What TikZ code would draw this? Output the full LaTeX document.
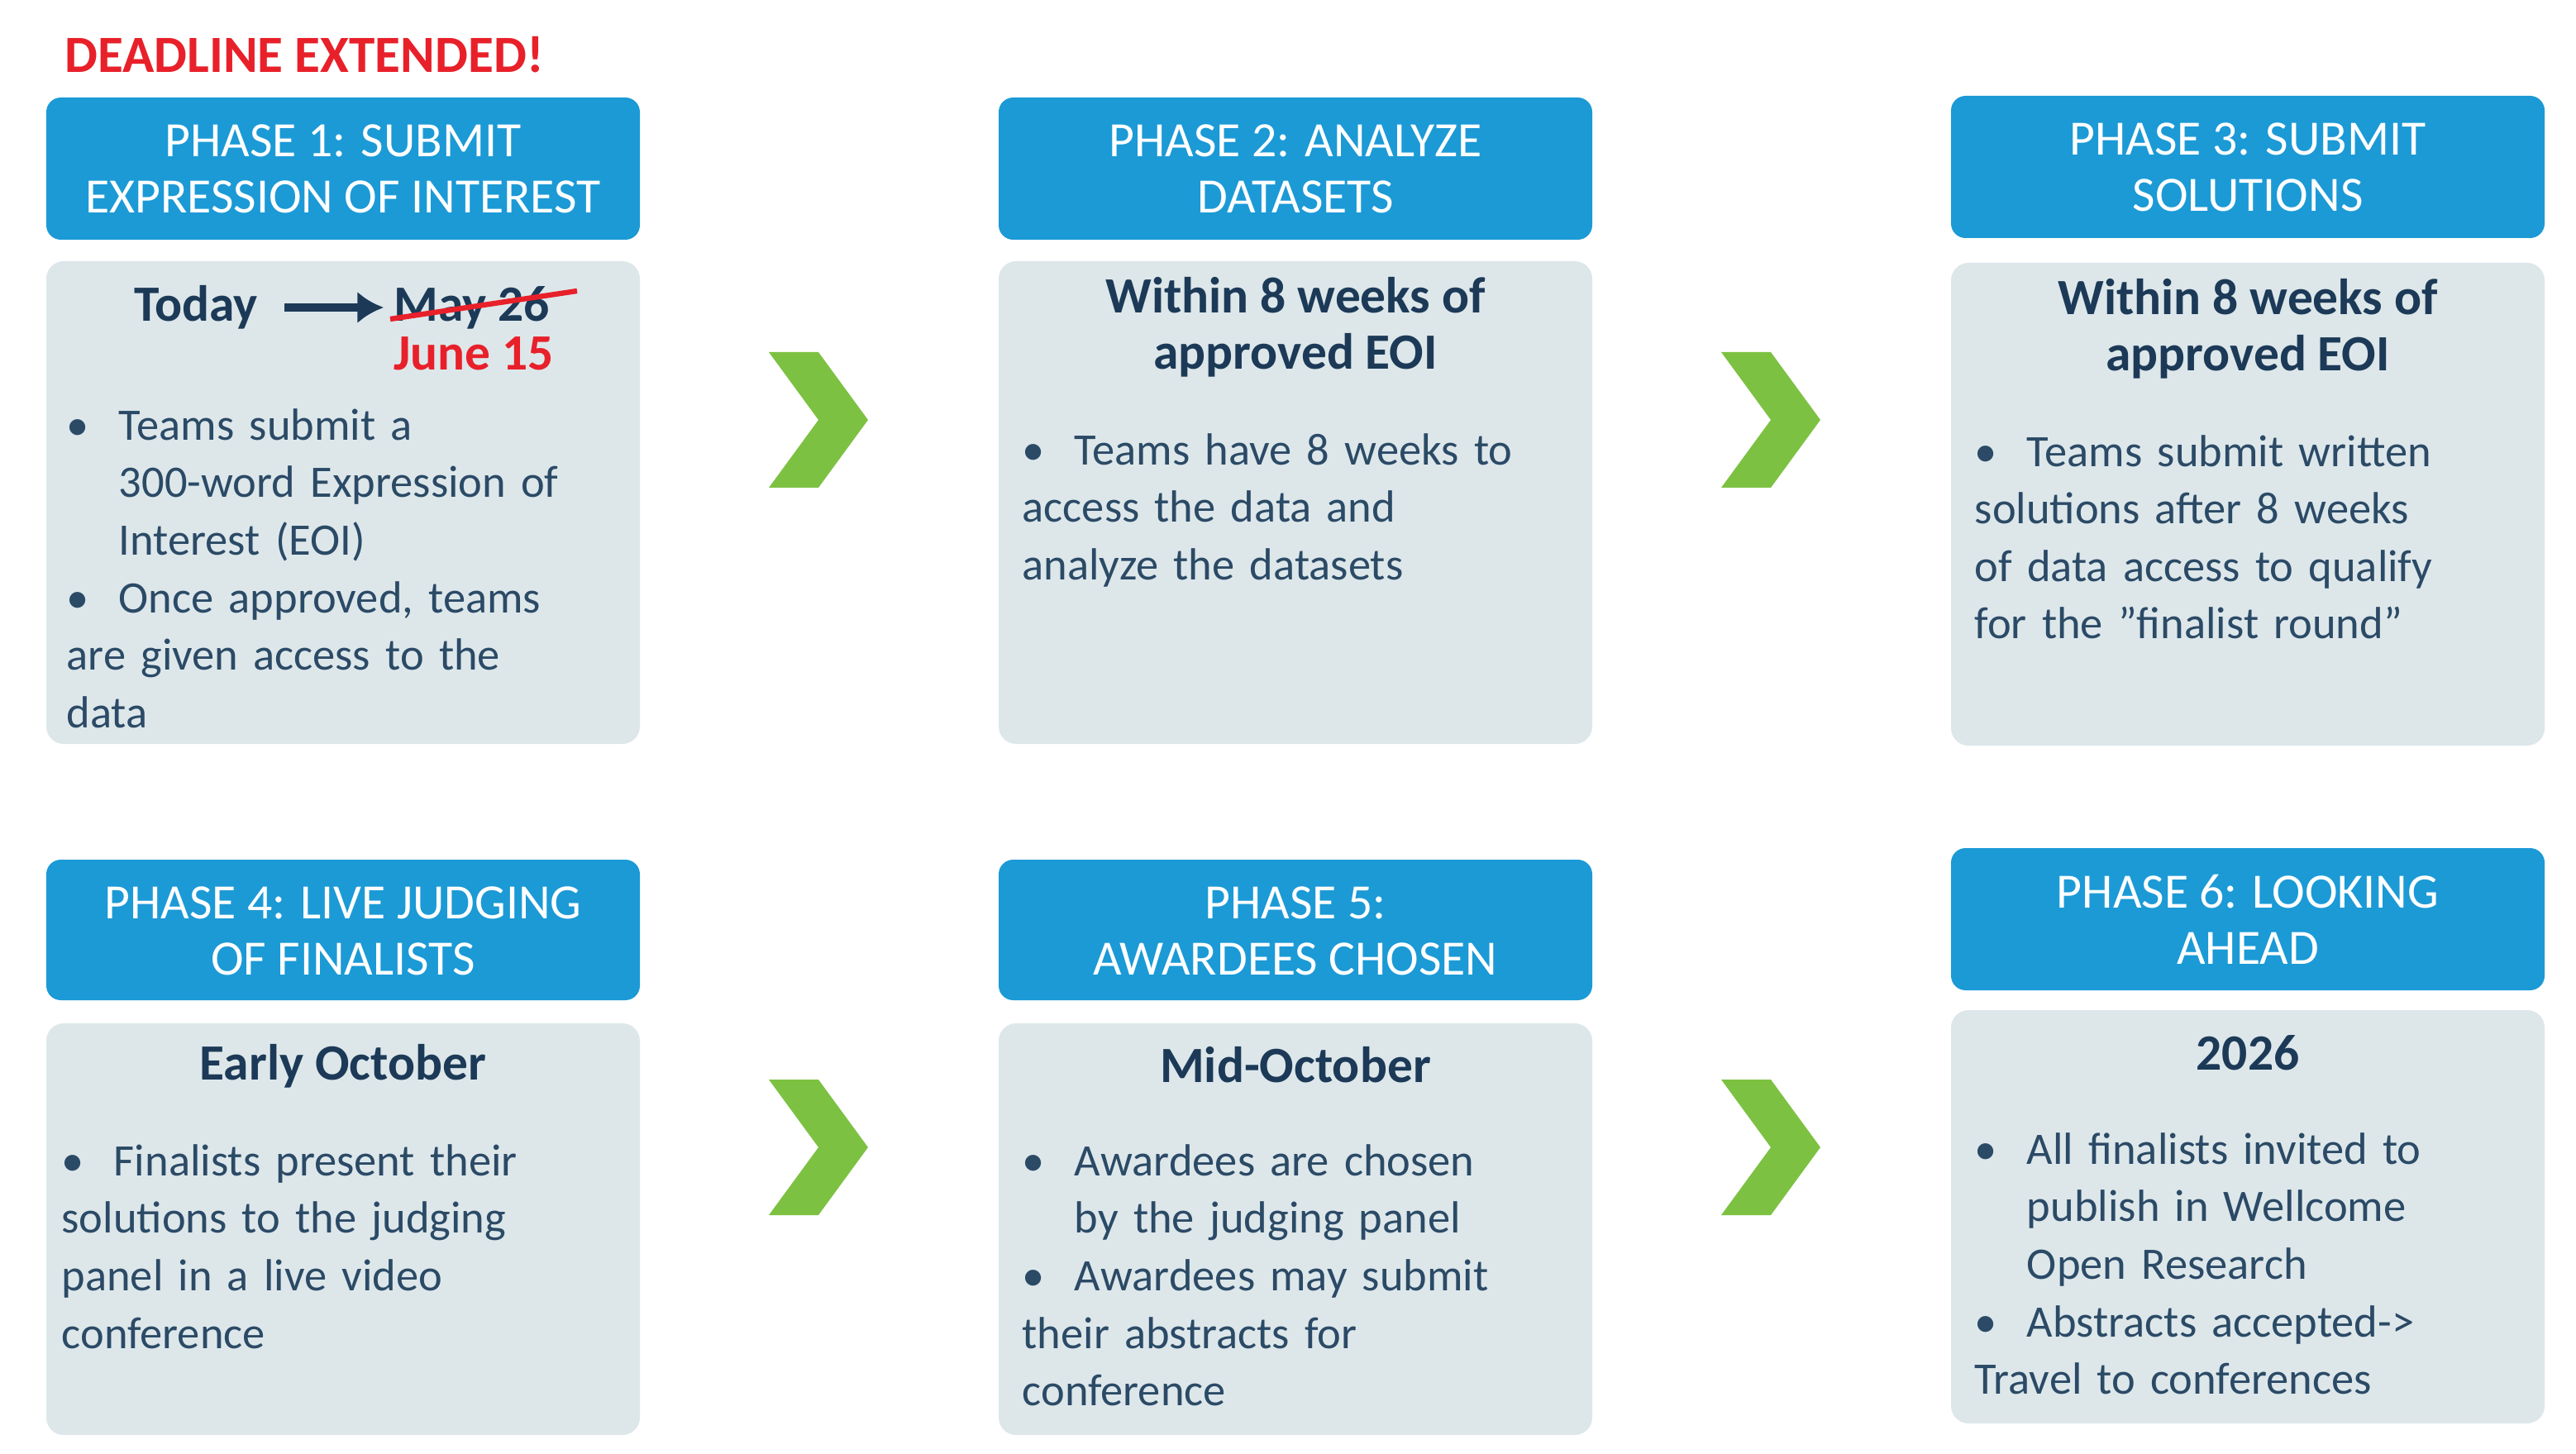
\documentclass[tikz,border=0pt]{standalone}
\usepackage{fontspec}
\usetikzlibrary{arrows.meta}
\setmainfont{Carlito}
\definecolor{hdr}{HTML}{1B9AD6}
\definecolor{bodybg}{HTML}{DDE7EA}
\definecolor{navy}{HTML}{1C3A57}
\definecolor{txt}{HTML}{2B4A66}
\definecolor{grn}{HTML}{7DC142}
\definecolor{red1}{HTML}{E8202A}
\newcommand{\bitem}[1]{\par\noindent\hangindent=18pt\hangafter=1\makebox[18pt][l]{\textbullet}#1}
\tikzset{
 hdrtext/.style={text=white,font=\fontsize{17pt}{19.3pt}\selectfont,align=center},
 ttl/.style={text=navy,font=\fontsize{17.5pt}{19.5pt}\selectfont\bfseries,align=center},
 btext/.style={text=txt,font=\fontsize{15.5pt}{19.8pt}\selectfont,anchor=north west,inner sep=0pt,text width=#1}
}
\newcommand{\chevron}[2]{\fill[grn] (#1,#2) -- ++(30,0) -- ++(30,41) -- ++(-30,41) -- ++(-30,0) -- ++(30,-41) -- cycle;}
\begin{document}
\begin{tikzpicture}[x=0.02cm,y=-0.02cm]
\useasboundingbox (0,0) rectangle (1558,879.5);
\node[text=red1,font=\fontsize{18pt}{20pt}\selectfont\bfseries,anchor=west] (dl) at (33,33) {DEADLINE EXTENDED!};
\foreach \x/\yh/\yhb/\yb/\ybb in {28/59/145/158/450, 604/59/145/158/450, 1180/58/144/159/451, 28/520/605/619/868, 604/520/605/619/868, 1180/513/599/611/861}{
 \fill[hdr,rounded corners=5pt] (\x,\yh) rectangle (\x+359,\yhb);
 \fill[bodybg,rounded corners=6pt] (\x,\yb) rectangle (\x+359,\ybb);
}
\node[hdrtext] (h1) at (207.5,102) {PHASE 1: SUBMIT\\EXPRESSION OF INTEREST};
\node[hdrtext] (h2) at (783.5,102) {PHASE 2: ANALYZE\\DATASETS};
\node[hdrtext] (h3) at (1359.5,101) {PHASE 3: SUBMIT\\SOLUTIONS};
\node[hdrtext] (h4) at (207.5,563) {PHASE 4: LIVE JUDGING\\OF FINALISTS};
\node[hdrtext] (h5) at (783.5,563) {PHASE 5:\\AWARDEES CHOSEN};
\node[hdrtext] (h6) at (1359.5,556) {PHASE 6: LOOKING\\AHEAD};
\node[ttl,anchor=west] (today) at (75,186) {Today};
\node[ttl,anchor=west] (may) at (232,186) {May 26};
\draw[navy,line width=2.6pt,-{Latex[length=9pt,width=11pt]}] (172,186) -- (may.west);
\draw[red1,line width=1.8pt] (236,193) -- (349,176);
\node[ttl,anchor=west,text=red1] (june) at (232,214) {June 15};
\node[btext=190pt] (b1) at (40,231) {\bitem{Teams submit a\newline 300-word Expression of\newline Interest (EOI)}\bitem{Once approved, teams\newline are given access to the\newline data}};
\node[ttl] (t2) at (783.5,198) {Within 8 weeks of\\approved EOI};
\node[btext=190pt] (b2) at (618,246) {\bitem{Teams have 8 weeks to\newline access the data and\newline analyze the datasets}};
\node[ttl] (t3) at (1359.5,199) {Within 8 weeks of\\approved EOI};
\node[btext=190pt] (b3) at (1194,247) {\bitem{Teams submit written\newline solutions after 8 weeks\newline of data access to qualify\newline for the "finalist round"}};
\node[ttl] (t4) at (207.5,645) {Early October};
\node[btext=190pt] (b4) at (37,676) {\bitem{Finalists present their\newline solutions to the judging\newline panel in a live video\newline conference}};
\node[ttl] (t5) at (783.5,644) {Mid-October};
\node[btext=190pt] (b5) at (618,676) {\bitem{Awardees are chosen\newline by the judging panel}\bitem{Awardees may submit\newline their abstracts for\newline conference}};
\node[ttl] (t6) at (1359.5,637) {2026};
\node[btext=190pt] (b6) at (1194,669) {\bitem{All finalists invited to\newline publish in Wellcome\newline Open Research}\bitem{Abstracts accepted->\newline Travel to conferences}};
\chevron{465}{213}
\chevron{1041}{213}
\chevron{465}{653}
\chevron{1041}{653}
\end{tikzpicture}
\end{document}
